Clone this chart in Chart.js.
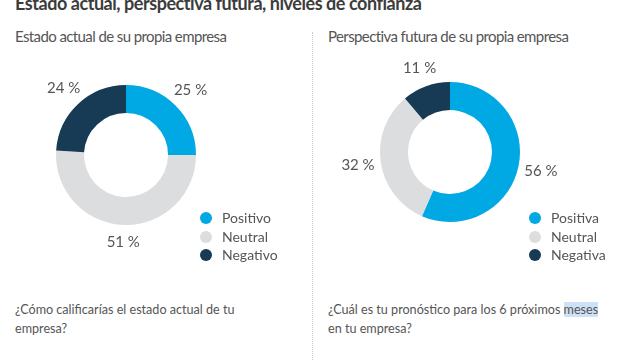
<!DOCTYPE html>
<html>
<head>
<meta charset="utf-8">
<script src="https://cdn.jsdelivr.net/npm/chart.js@4.4.0/dist/chart.umd.min.js"></script>
<style>
    body { margin: 0; width: 640px; height: 360px; background: #fff; overflow: hidden; position: relative; font-family: Lato, "Open Sans", sans-serif; color: #555; }
    .abs { position: absolute; white-space: nowrap; }
    #title { left: 15px; top: -8px; font-size: 18px; letter-spacing: -0.45px; font-weight: bold; color: #3c3c3c; }
    .sub { top: 27px; font-size: 15px; letter-spacing: -0.6px; color: #555; }
    .sep { position: absolute; left: 312px; top: 32px; height: 330px; border-left: 1px dotted #ccc; }
    .legend { font-size: 14px; line-height: 18.5px; color: #555; }
    .legend div { display: flex; align-items: center; }
    .dot { display: inline-block; width: 12px; height: 12px; border-radius: 50%; margin-right: 10px; }
    .q { font-size: 12.6px; line-height: 19px; color: #555; }
    .hl { background: #cfe1f6; }
    canvas { position: absolute; }
</style>
</head>
<body>
<div id="title" class="abs">Estado actual, perspectiva futura, niveles de confianza</div>
<div class="abs sub" style="left:15px">Estado actual de su propia empresa</div>
<div class="abs sub" style="left:328px">Perspectiva futura de su propia empresa</div>
<div class="sep"></div>

<div style="position:absolute;left:6px;top:35px;width:240px;height:240px"><canvas id="actualChart"></canvas></div>
<div style="position:absolute;left:330px;top:32px;width:240px;height:240px"><canvas id="futuraChart"></canvas></div>

<div id="legendActual" class="abs legend" style="left:200px;top:209px"></div>
<div id="legendFutura" class="abs legend" style="left:529px;top:209px"></div>

<div class="abs q" style="left:15px;top:300px">¿Cómo calificarías el estado actual de tu<br>empresa?</div>
<div class="abs q" style="left:328px;top:300px">¿Cuál es tu pronóstico para los 6 próximos <span class="hl">meses</span><br>en tu empresa?</div>

<script>
const actualLabels = ['Positivo', 'Neutral', 'Negativo'];
const actualValues = [25, 51, 24];
const futuraLabels = ['Positiva', 'Neutral', 'Negativa'];
const futuraValues = [56, 32, 11];
const sliceColors = ['#00a9e4', '#dcdddf', '#173a55'];

// percentage labels outside each slice
const outsideLabels = {
    id: 'outsideLabels',
    afterDatasetsDraw(chart) {
        const ctx = chart.ctx;
        const meta = chart.getDatasetMeta(0);
        ctx.save();
        ctx.font = '15px Lato, "Open Sans", sans-serif';
        ctx.fillStyle = '#555';
        ctx.textAlign = 'center';
        ctx.textBaseline = 'middle';
        meta.data.forEach((arc, i) => {
            const mid = (arc.startAngle + arc.endAngle) / 2;
            // a bit closer above/below the ring than at its sides
            const r = arc.outerRadius + 17 + 6 * Math.abs(Math.cos(mid));
            const x = arc.x + Math.cos(mid) * r;
            const y = arc.y + Math.sin(mid) * r;
            ctx.fillText(chart.data.datasets[0].data[i] + ' %', x, y);
        });
        ctx.restore();
    }
};

function makeDonut(id, labels, values) {
    const ctx = document.getElementById(id).getContext('2d');
    return new Chart(ctx, {
        type: 'doughnut',
        data: {
            labels: labels,
            datasets: [{
                data: values,
                backgroundColor: sliceColors,
                borderWidth: 0,
            }],
        },
        options: {
            responsive: true,
            maintainAspectRatio: false,
            animation: false,
            cutout: '60%',
            layout: { padding: 50 },
            plugins: {
                legend: { display: false },
                tooltip: { enabled: false },
            },
        },
        plugins: [outsideLabels],
    });
}

function makeLegend(id, labels) {
    const el = document.getElementById(id);
    labels.forEach((label, i) => {
        const row = document.createElement('div');
        row.innerHTML = '<span class="dot" style="background:' + sliceColors[i] + '"></span>' + label;
        el.appendChild(row);
    });
}

makeDonut('actualChart', actualLabels, actualValues);
makeDonut('futuraChart', futuraLabels, futuraValues);
makeLegend('legendActual', actualLabels);
makeLegend('legendFutura', futuraLabels);
</script>
</body>
</html>
